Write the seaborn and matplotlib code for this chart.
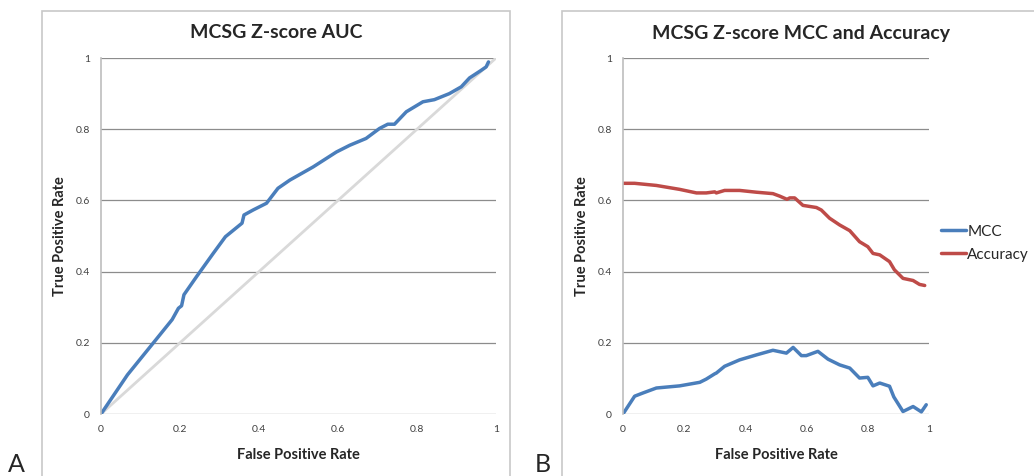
import numpy as np
import pandas as pd
import seaborn as sns
import matplotlib.pyplot as plt
from matplotlib.patches import Rectangle

# ROC curve (panel A)
roc_fpr = [0, 0.067, 0.14, 0.18, 0.196, 0.204, 0.21, 0.242, 0.284, 0.315, 0.357, 0.362,
           0.385, 0.419, 0.448, 0.478, 0.537, 0.596, 0.63, 0.671, 0.705, 0.726, 0.743,
           0.773, 0.815, 0.844, 0.882, 0.912, 0.933, 0.962, 0.975, 0.981]
roc_tpr = [0, 0.11, 0.21, 0.265, 0.297, 0.304, 0.335, 0.386, 0.451, 0.498, 0.536, 0.559,
           0.573, 0.592, 0.634, 0.657, 0.694, 0.736, 0.755, 0.774, 0.802, 0.814, 0.814,
           0.849, 0.877, 0.883, 0.9, 0.919, 0.944, 0.965, 0.975, 0.989]
diag = [0, 1]

# MCC and accuracy (panel B)
acc_fpr = [0, 0.038, 0.109, 0.185, 0.24, 0.272, 0.3, 0.305, 0.332, 0.381, 0.436, 0.49,
           0.512, 0.536, 0.545, 0.561, 0.588, 0.632, 0.648, 0.675, 0.708, 0.741, 0.773,
           0.8, 0.817, 0.839, 0.871, 0.887, 0.915, 0.948, 0.969, 0.986]
accuracy = [0.648, 0.648, 0.642, 0.631, 0.621, 0.621, 0.624, 0.621, 0.628, 0.628, 0.623,
            0.619, 0.612, 0.603, 0.607, 0.607, 0.586, 0.58, 0.573, 0.55, 0.531, 0.515,
            0.484, 0.47, 0.451, 0.447, 0.428, 0.405, 0.381, 0.375, 0.364, 0.361]
mcc_fpr = [0, 0.038, 0.065, 0.109, 0.185, 0.251, 0.272, 0.3, 0.305, 0.332, 0.381, 0.436,
           0.49, 0.534, 0.556, 0.583, 0.599, 0.637, 0.67, 0.708, 0.741, 0.773, 0.8, 0.817,
           0.839, 0.871, 0.885, 0.915, 0.948, 0.975, 0.991]
mcc = [0, 0.05, 0.059, 0.073, 0.079, 0.089, 0.098, 0.113, 0.115, 0.134, 0.152, 0.166,
       0.179, 0.171, 0.187, 0.164, 0.164, 0.176, 0.154, 0.138, 0.129, 0.101, 0.103, 0.079,
       0.087, 0.078, 0.048, 0.007, 0.021, 0.006, 0.026]

ticks = [0, 0.2, 0.4, 0.6, 0.8, 1]
tick_labels = ['0', '0.2', '0.4', '0.6', '0.8', '1']

sns.set_style("white")
plt.rcParams['font.family'] = ['Lato', 'DejaVu Sans']

blue = '#4A7EBB'
red = '#BE4B48'

W, H = 1034, 476
fig = plt.figure(figsize=(W / 100, H / 100), dpi=100)

def px_axes(x0, x1, y0, y1):
    return fig.add_axes([x0 / W, 1 - y1 / H, (x1 - x0) / W, (y1 - y0) / H])

# chart area frames
fig.patches.append(Rectangle((42 / W, -0.05), (510 - 42) / W, 1 - 11 / H + 0.05,
                             transform=fig.transFigure, fill=False, edgecolor='#C8C8C8', lw=1.2))
fig.patches.append(Rectangle((562 / W, -0.05), 0.5, 1 - 11 / H + 0.05,
                             transform=fig.transFigure, fill=False, edgecolor='#C8C8C8', lw=1.2))

def style_axes(ax):
    ax.set_xlim(0, 1)
    ax.set_ylim(0, 1)
    ax.set_xticks(ticks)
    ax.set_yticks(ticks)
    ax.set_xticklabels(tick_labels, fontsize=7.5, color='#404040')
    ax.set_yticklabels(tick_labels, fontsize=7.5, color='#404040')
    ax.tick_params(axis='both', length=0, pad=8)
    ax.yaxis.grid(True, color='#8C8C8C', lw=0.9)
    ax.xaxis.grid(False)
    for s in ['top', 'right', 'bottom']:
        ax.spines[s].set_visible(False)
    ax.spines['left'].set_color('#BEBEBE')
    ax.spines['left'].set_linewidth(1.2)
    ax.set_xlabel('False Positive Rate', fontsize=10.5, fontweight='bold', labelpad=10)
    ax.set_ylabel('True Positive Rate', fontsize=10.5, fontweight='bold', labelpad=6)

# Panel A
ax1 = px_axes(101, 496, 58, 414)
sns.lineplot(x=diag, y=diag, ax=ax1, color='#D9D9D9', lw=2)
sns.lineplot(x=roc_fpr, y=roc_tpr, ax=ax1, color=blue, lw=2.5, sort=False)
style_axes(ax1)
fig.text(276 / W, 1 - 33 / H, 'MCSG Z-score AUC', ha='center', va='center',
         fontsize=14, fontweight='bold')

# Panel B
ax2 = px_axes(623, 929, 58, 414)
sns.lineplot(x=mcc_fpr, y=mcc, ax=ax2, color=blue, lw=2.5, sort=False, label='MCC')
sns.lineplot(x=acc_fpr, y=accuracy, ax=ax2, color=red, lw=2.5, sort=False, label='Accuracy')
style_axes(ax2)
ax2.legend(loc='center left', bbox_to_anchor=(1.0, 0.48), frameon=False, fontsize=11,
           handlelength=1.6, handletextpad=0.1, labelspacing=0.6, borderaxespad=0.4)
fig.text(801 / W, 1 - 33 / H, 'MCSG Z-score MCC and Accuracy', ha='center', va='center',
         fontsize=14, fontweight='bold')

# panel letters
fig.text(8 / W, 0.0, 'A', fontsize=18, ha='left', va='bottom')
fig.text(535 / W, 0.0, 'B', fontsize=18, ha='left', va='bottom')

fig.savefig('out.png', dpi=100)
